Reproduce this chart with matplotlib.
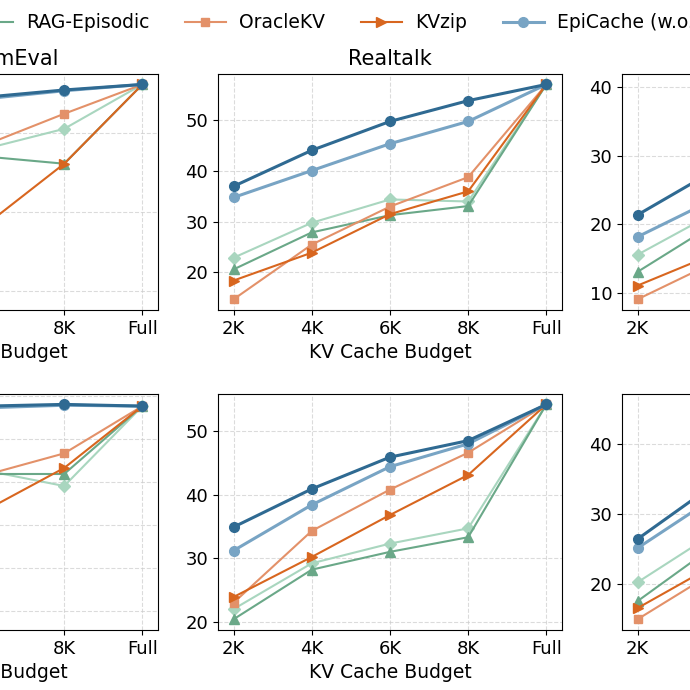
import matplotlib
matplotlib.use("Agg")
import matplotlib.pyplot as plt
from matplotlib.ticker import MultipleLocator

# budgets on the x axis
budgets = ["2K", "4K", "6K", "8K", "Full"]

methods = ["RAG-Session", "RAG-Episodic", "OracleKV", "KVzip",
           "EpiCache (w.o. clustering)", "EpiCache"]

# LongMemEval (top row, left)
lme_top = {
    "RAG-Session": [40.0, 44.5, 48.0, 50.5, 56.1],
    "RAG-Episodic": [42.0, 45.5, 47.0, 46.1, 56.1],
    "OracleKV": [38.5, 44.0, 48.5, 52.4, 56.1],
    "KVzip": [29.0, 33.5, 38.4, 46.1, 56.1],
    "EpiCache (w.o. clustering)": [50.5, 52.8, 54.3, 55.3, 56.1],
    "EpiCache": [52.0, 53.8, 54.5, 55.4, 56.1],
}
# Realtalk (top row, middle)
realtalk_top = {
    "RAG-Session": [22.9, 29.8, 34.4, 34.0, 57.1],
    "RAG-Episodic": [20.6, 27.9, 31.3, 33.1, 57.1],
    "OracleKV": [14.7, 25.5, 33.0, 38.8, 57.1],
    "KVzip": [18.4, 23.9, 31.5, 36.0, 57.1],
    "EpiCache (w.o. clustering)": [34.8, 40.1, 45.4, 49.8, 57.1],
    "EpiCache": [37.0, 44.1, 49.8, 53.9, 57.1],
}
# LoCoMo (top row, right)
locomo_top = {
    "RAG-Session": [15.6, 21.8, 25.0, 27.0, 40.4],
    "RAG-Episodic": [13.1, 20.2, 23.5, 26.0, 40.4],
    "OracleKV": [9.1, 14.6, 20.0, 25.0, 40.4],
    "KVzip": [11.1, 15.8, 20.5, 26.0, 40.4],
    "EpiCache (w.o. clustering)": [18.2, 23.8, 28.5, 33.0, 40.4],
    "EpiCache": [21.4, 28.0, 33.0, 37.0, 40.4],
}
# bottom row (second model)
lme_bot = {
    "RAG-Session": [52.0, 54.5, 56.3, 54.5, 63.8],
    "RAG-Episodic": [50.5, 53.5, 55.9, 55.9, 63.8],
    "OracleKV": [50.0, 53.0, 55.8, 58.3, 63.8],
    "KVzip": [39.0, 46.0, 51.7, 56.6, 63.8],
    "EpiCache (w.o. clustering)": [60.5, 62.0, 63.6, 63.9, 63.8],
    "EpiCache": [61.0, 62.5, 63.8, 64.0, 63.8],
}
realtalk_bot = {
    "RAG-Session": [22.0, 29.2, 32.3, 34.7, 54.2],
    "RAG-Episodic": [20.4, 28.2, 31.0, 33.3, 54.2],
    "OracleKV": [23.0, 34.3, 40.8, 46.6, 54.2],
    "KVzip": [23.9, 30.2, 36.8, 43.1, 54.2],
    "EpiCache (w.o. clustering)": [31.2, 38.4, 44.4, 48.0, 54.2],
    "EpiCache": [34.9, 40.9, 45.9, 48.5, 54.2],
}
locomo_bot = {
    "RAG-Session": [20.2, 27.4, 31.0, 33.5, 45.7],
    "RAG-Episodic": [17.5, 25.6, 29.5, 32.0, 45.7],
    "OracleKV": [14.9, 21.8, 27.0, 32.0, 45.7],
    "KVzip": [16.5, 22.8, 28.0, 33.0, 45.7],
    "EpiCache (w.o. clustering)": [25.1, 32.5, 37.5, 41.0, 45.7],
    "EpiCache": [26.4, 34.4, 39.0, 42.0, 45.7],
}

titles = ["LongMemEval", "Realtalk", "LoCoMo"]

styles = {
    "RAG-Session": dict(color="#a9d6bf", marker="D", ms=6, lw=1.5),
    "RAG-Episodic": dict(color="#6aa888", marker="^", ms=7, lw=1.5),
    "OracleKV": dict(color="#e39169", marker="s", ms=6, lw=1.5),
    "KVzip": dict(color="#d8661f", marker=">", ms=7, lw=1.5),
    "EpiCache (w.o. clustering)": dict(color="#78a4c4", marker="o", ms=7, lw=2.2),
    "EpiCache": dict(color="#2f6a92", marker="o", ms=7, lw=2.2),
}

# figure is a crop of a wider figure, so the outer panels hang off the canvas
fig = plt.figure(figsize=(6.9, 6.9), dpi=100)
lefts = [-0.2696, 0.3159, 0.9014]
bottoms = [0.5507, 0.0870]
w, h = 0.4986, 0.3425

panels = [[lme_top, realtalk_top, locomo_top], [lme_bot, realtalk_bot, locomo_bot]]
ysteps = [[10, 10, 10], [5, 10, 10]]

for r in range(2):
    for c in range(3):
        ax = fig.add_axes([lefts[c], bottoms[r], w, h])
        data = panels[r][c]
        for m in methods:
            ax.plot(budgets, data[m], label=m, **styles[m])
        ax.grid(True, linestyle="--", color="#cccccc", alpha=0.7, lw=0.8)
        ax.yaxis.set_major_locator(MultipleLocator(ysteps[r][c]))
        ax.tick_params(labelsize=13)
        ax.set_xlabel("KV Cache Budget", fontsize=13.5)
        if r == 0:
            ax.set_title(titles[c], fontsize=15)
        if c == 0:
            ax.set_ylabel("Accuracy", fontsize=13.5)

handles, labels = fig.axes[0].get_legend_handles_labels()
fig.legend(handles, labels, loc="upper left", bbox_to_anchor=(-0.3665, 1.005),
           ncol=6, frameon=False, fontsize=13.5, handlelength=2.2,
           columnspacing=1.9, handletextpad=0.7)

fig.savefig("out.png", dpi=100)
